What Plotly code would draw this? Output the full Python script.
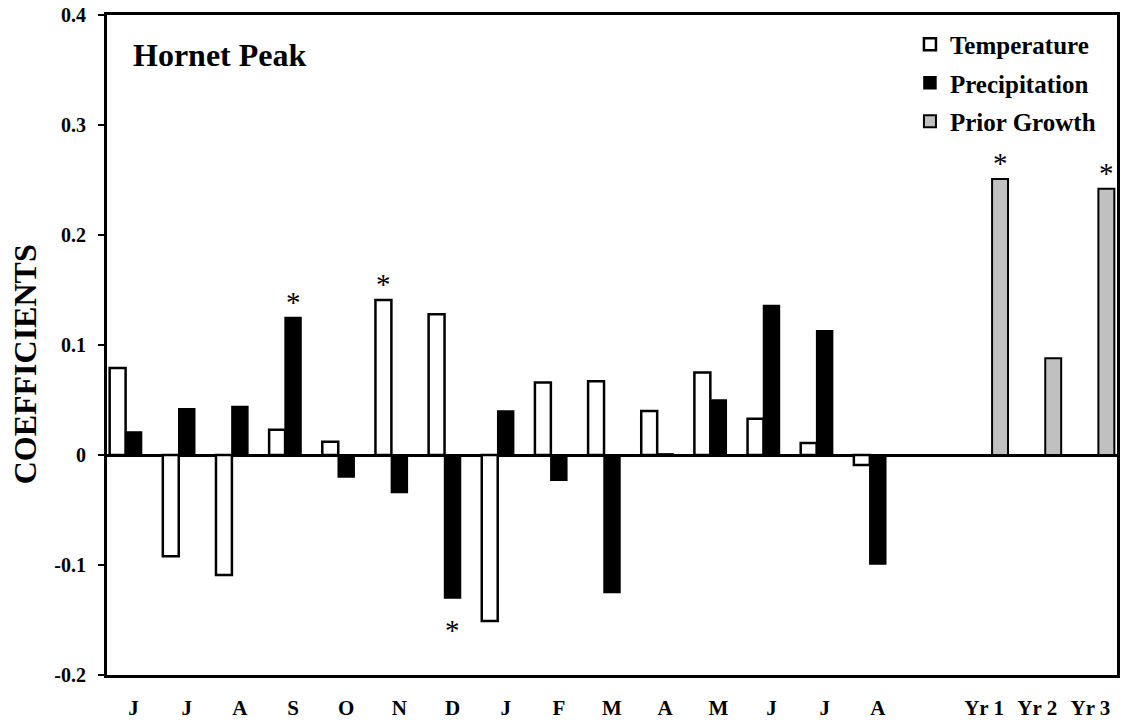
import plotly.graph_objects as go

months = ["J", "J", "A", "S", "O", "N", "D", "J", "F", "M", "A", "M", "J", "J", "A", "", "Yr 1", "Yr 2", "Yr 3"]
temperature = [0.079, -0.092, -0.109, 0.023, 0.012, 0.141, 0.128, -0.151, 0.066, 0.067,
               0.040, 0.075, 0.033, 0.011, -0.009, None, None, None, None]
precipitation = [0.021, 0.042, 0.044, 0.125, -0.020, -0.034, -0.130, 0.040, -0.023, -0.125,
                 0.001, 0.050, 0.136, 0.113, -0.099, None, None, None, None]
prior_growth = [None] * 16 + [0.251, 0.088, 0.242]

# significance markers: (category index, series)
star_index = [3, 5, 6, 16, 18]
star_series = ["precip", "temp", "precip", "prior", "prior"]

ytick_vals = [-0.2, -0.1, 0, 0.1, 0.2, 0.3, 0.4]
ytick_text = ["-0.2", "-0.1", "0", "0.1", "0.2", "0.3", "0.4"]

FONT = "Liberation Serif"
BARGAP = 0.1
x = list(range(len(months)))

fig = go.Figure()
fig.add_trace(go.Bar(x=x, y=temperature, name="<b>Temperature</b>",
                     marker=dict(color="white", line=dict(color="black", width=2.5)),
                     legendgroup="a"))
fig.add_trace(go.Bar(x=x, y=precipitation, name="<b>Precipitation</b>",
                     marker=dict(color="black", line=dict(color="black", width=1.5)),
                     legendgroup="b"))
fig.add_trace(go.Bar(x=x, y=prior_growth, name="<b>Prior Growth</b>",
                     marker=dict(color="#c0c0c0", line=dict(color="black", width=2)),
                     legendgroup="c"))

w = (1 - BARGAP) / 3
offsets = {"temp": -w, "precip": 0.0, "prior": w}
values = {"temp": temperature, "precip": precipitation, "prior": prior_growth}
for i, s in zip(star_index, star_series):
    v = values[s][i]
    above = v >= 0
    fig.add_annotation(x=i + offsets[s], y=v, text="*", showarrow=False,
                       xref="x", yref="y",
                       yanchor="bottom" if above else "top",
                       yshift=-2 if above else -14,
                       font=dict(family=FONT, size=29, color="black"))

fig.add_annotation(x=0.024, y=0.94, xref="paper", yref="paper", text="<b>Hornet Peak</b>",
                   showarrow=False, xanchor="left", yanchor="middle",
                   font=dict(family=FONT, size=32, color="black"))

fig.add_annotation(x=-0.081, y=0.471, xref="paper", yref="paper", text="<b>COEFFICIENTS</b>",
                   showarrow=False, textangle=-90, xanchor="center", yanchor="middle",
                   font=dict(family=FONT, size=32, color="black"))

fig.update_layout(
    width=1123, height=723,
    margin=dict(l=107, r=3, t=15, b=48),
    paper_bgcolor="white", plot_bgcolor="white",
    barmode="group", bargap=BARGAP, bargroupgap=0,
    font=dict(family=FONT, color="black"),
    legend=dict(x=0.795, y=0.99, xanchor="left", yanchor="top",
                bgcolor="rgba(0,0,0,0)", tracegroupgap=3,
                font=dict(family=FONT, size=25, color="black"),
                traceorder="grouped"),
    showlegend=True,
)
fig.update_xaxes(range=[-0.5, len(months) - 0.5], tickmode="array", tickvals=x, ticktext=months,
                 showline=True, linecolor="black", linewidth=3, mirror=True,
                 showgrid=False, zeroline=False, ticks="", ticklabelstandoff=12,
                 tickfont=dict(family=FONT, size=21, color="black", weight="bold"))
fig.update_yaxes(range=[-0.2, 0.4], tickmode="array", tickvals=ytick_vals, ticktext=ytick_text,
                 showline=True, linecolor="black", linewidth=3, mirror=True,
                 showgrid=False, zeroline=True, zerolinecolor="black", zerolinewidth=2.5,
                 ticks="outside", ticklen=6, tickwidth=1.5, tickcolor="black",
                 ticklabelstandoff=8,
                 tickfont=dict(family=FONT, size=20, color="black", weight="bold"))

fig.write_html("out.html")
